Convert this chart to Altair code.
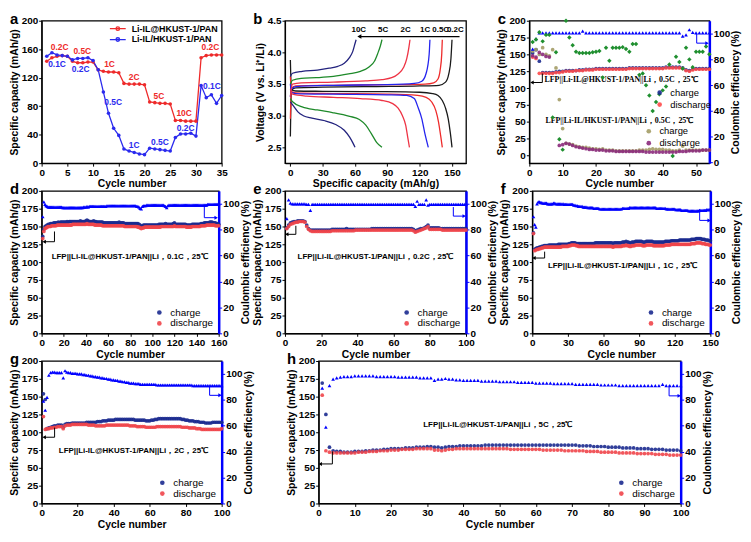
import altair as alt
import pandas as pd

FONT = "Liberation Sans"
NAVY = "#1b2a8f"
RED = "#f0454a"
BLUE = "#0000ff"
H = 144

# ---------------- panel a: rate capability ----------------
a_cycles = list(range(1, 36))
a_mof = [143, 148, 150, 151, 150, 143, 141, 141, 142, 142, 131, 129, 128, 128, 127,
         112, 111, 111, 111, 110, 86, 85, 84, 84, 83, 60, 60, 59, 59, 59,
         148, 151, 152, 152, 152]
a_il = [150, 155, 152, 151, 150, 145, 147, 147, 148, 144, 131, 100, 70, 49, 39,
        20, 17, 15, 13, 12, 21, 20, 19, 18, 17, 36, 41, 41, 42, 38,
        109, 92, 96, 84, 95]
a_series = ["Li-IL@HKUST-1/PAN", "Li-IL/HKUST-1/PAN"]
a_lab_text = ["0.2C", "0.5C", "1C", "2C", "5C", "10C", "0.2C",
              "0.1C", "0.2C", "0.5C", "1C", "0.5C", "0.2C", "0.1C"]
a_lab_x = [3.5, 7.9, 13.2, 18, 22.8, 27.7, 32.8, 3, 7.6, 13.9, 18, 23, 28, 33.1]
a_lab_y = [163, 158, 139, 121, 94, 70.5, 163, 139, 132, 86, 26, 30, 49, 109]
a_lab_col = ["#ee2a2a"] * 7 + ["#2a2aee"] * 7

# ---------------- panel b: charge/discharge curves ----------------
b_rates = ["0.2C", "0.5C", "1C", "2C", "5C", "10C"]
b_colors = ["#1a1a1a", "#ee2b2b", "#2424ee", "#ee3344", "#1e8a2a", "#23237e"]
b_chg_cap = {
    "0.2C": [0, 1, 5, 30, 80, 120, 138, 144, 147, 149, 150],
    "0.5C": [0, 1, 5, 40, 90, 125, 133, 137, 139, 140.5, 141],
    "1C": [0, 1, 5, 40, 90, 115, 122, 126, 128.8, 129.5],
    "2C": [0, 2, 10, 40, 70, 85, 94, 100, 105, 108, 110, 111],
    "5C": [0, 2, 10, 24, 40, 54, 65, 73, 78, 81, 83.5, 85],
    "10C": [0, 2, 11, 25, 36, 44, 50, 55, 58, 60, 61],
}
b_chg_v = {
    "0.2C": [2.67, 3.40, 3.44, 3.45, 3.46, 3.47, 3.48, 3.53, 3.66, 3.90, 4.20],
    "0.5C": [2.95, 3.43, 3.47, 3.48, 3.49, 3.50, 3.52, 3.58, 3.72, 3.98, 4.20],
    "1C": [3.30, 3.42, 3.46, 3.48, 3.49, 3.51, 3.545, 3.67, 3.97, 4.20],
    "2C": [3.30, 3.50, 3.52, 3.53, 3.55, 3.57, 3.60, 3.66, 3.76, 3.90, 4.08, 4.20],
    "5C": [3.50, 3.56, 3.59, 3.60, 3.62, 3.66, 3.70, 3.77, 3.86, 3.98, 4.10, 4.20],
    "10C": [3.62, 3.67, 3.70, 3.72, 3.75, 3.78, 3.83, 3.92, 4.02, 4.14, 4.20],
}
b_dis_cap = {
    "0.2C": [0, 1, 5, 30, 80, 120, 132, 137, 141, 144, 146.5, 148.5, 150],
    "0.5C": [0, 1, 5, 40, 90, 118, 126, 131, 135, 137.5, 139.5, 141],
    "1C": [0, 1, 5, 40, 90, 108, 115, 118.7, 122, 124.8, 128],
    "2C": [0, 2, 15, 40, 65, 85, 95, 100, 104, 107, 109, 110.5],
    "5C": [0, 2, 11, 25, 39, 55, 64, 70, 75, 80, 85],
    "10C": [0, 3, 7, 12, 20, 32, 42, 50, 55, 58, 60],
}
b_dis_v = {
    "0.2C": [3.88, 3.41, 3.39, 3.385, 3.38, 3.37, 3.35, 3.32, 3.24, 3.12, 2.95, 2.72, 2.50],
    "0.5C": [3.62, 3.38, 3.36, 3.35, 3.34, 3.32, 3.29, 3.22, 3.08, 2.90, 2.68, 2.50],
    "1C": [3.50, 3.37, 3.35, 3.34, 3.33, 3.32, 3.27, 3.12, 2.95, 2.72, 2.50],
    "2C": [3.42, 3.34, 3.31, 3.29, 3.27, 3.24, 3.19, 3.12, 3.00, 2.85, 2.65, 2.50],
    "5C": [3.27, 3.22, 3.14, 3.09, 3.05, 2.99, 2.94, 2.85, 2.72, 2.58, 2.50],
    "10C": [3.22, 3.15, 3.06, 3.00, 2.96, 2.92, 2.86, 2.77, 2.66, 2.57, 2.50],
}
b_lab_text = ["10C", "5C", "2C", "1C", "0.5C", "0.2C"]
b_lab_x = [63.5, 86, 107, 125, 139.5, 153]
b_arrow_x = [157, 64]

# ---------------- panel c: 0.5C cycling, both electrolytes ----------------
c_mof_charge = [152, 157, 140, 123, 123, 123, 123, 124, 125, 125,
                126, 126, 126, 126, 127, 127, 128, 128, 128, 129,
                129, 129, 129, 129, 129, 129, 129, 129, 129, 130,
                130, 130, 130, 130, 130, 130, 130, 130, 130, 130,
                131, 131, 131, 131, 131, 130, 127, 126, 128, 129,
                129, 129, 129, 129]
c_mof_dis = [146, 144, 122, 122, 122, 122, 122, 123, 123, 124,
             125, 125, 125, 126, 126, 126, 127, 127, 127, 128,
             128, 128, 128, 128, 128, 128, 128, 128, 128, 129,
             129, 129, 129, 129, 129, 129, 129, 129, 129, 129,
             130, 130, 130, 130, 130, 129, 126, 125, 127, 128,
             128, 128, 128, 128]
c_mof_ce = [88, 96, 100.5, 100.5, 100.5, 100.5, 100.5, 100.5, 100.5, 100.5,
            100.5, 100.5, 100.5, 100.5, 100.5, 102, 100.5, 100.5, 100.5, 100.5,
            100.5, 100.5, 100.5, 100.5, 100.5, 100.5, 100.5, 100.5, 100.5, 100.5,
            100.5, 100.5, 100.5, 100.5, 100.5, 100.5, 100.5, 100.5, 100.5, 100.5,
            100.5, 100.5, 100.5, 100.5, 100.5, 98, 99, 103, 101, 100.5,
            100.5, 100.5, 100.5, 100.5]
c_il_charge = [155, 157, 150, 160, 150, 148, 157, 130, 83, 40,
               18, 17, 16, 14, 13, 12, 12, 11, 10, 10,
               9, 10, 8, 8, 8, 7, 7, 7, 7, 7,
               7, 7, 8, 8, 8, 9, 10, 9, 9, 9,
               8, 8, 7, 7, 8, 14, 8, 8, 8, 8,
               8, 8, 8, 8]
c_il_dis = [148, 146, 153, 150, 147, 146, None, None, 15, 16,
            18, 17, 15, 13, 12, 11, 10, 9, 9, 8,
            8, 8, 7, 7, 7, 6, 6, 6, 6, 6,
            6, 6, 6, 6, 5, 5, 5, 5, 5, 5,
            5, 5, 5, 5, 6, 6, 6, 7, 7, 7,
            7, 8, 8, 8]
c_il_ce = [93.5, 95.5, 101, 94, 99, 99, 35, 85.5, 18, 10,
           110, 97, 91, 86, 85, 85, 85, 85, 85.5, 86,
           86.5, 66, 89, 79, 89, 89, 89, 89.5, 88, 86,
           92, 92, 68, 69, 60, 52, 40, 47, 53, 56,
           59, 76, 5, 82, 78, 73, 89, 80, 74, 86,
           86, 86, 90, 84]

# ---------------- panel d: 0.1C ----------------
d_charge = [136, 146, 150, 151, 152, 153, 153, 154, 154, 154,
            155, 155, 155, 155, 156, 155, 156, 156, 156, 156,
            156, 156, 157, 156, 157, 157, 157, 157, 157, 157,
            157, 157, 157, 157, 158, 157, 157, 157, 157, 158,
            159, 158, 157, 157, 157, 157, 158, 157, 157, 156,
            156, 156, 156, 156, 156, 155, 155, 155, 155, 155,
            155, 155, 155, 155, 155, 155, 155, 155, 155, 156,
            155, 155, 155, 155, 154, 154, 154, 154, 154, 154,
            154, 154, 154, 154, 154, 154, 154, 153, 152, 150,
            151, 152, 152, 152, 152, 152, 152, 152, 152, 152,
            152, 152, 152, 152, 152, 153, 153, 153, 153, 153,
            153, 154, 153, 153, 153, 153, 153, 153, 154, 155,
            153, 153, 153, 153, 153, 153, 153, 153, 153, 153,
            152, 152, 152, 152, 152, 153, 153, 153, 153, 153,
            153, 153, 153, 154, 154, 154, 155, 155, 155, 155,
            155, 156, 156, 156, 155, 155, 155, 154, 154, 153]
d_discharge = [133, 143, 147, 148, 149, 150, 150, 150, 151, 151,
               151, 151, 151, 152, 152, 152, 152, 152, 152, 152,
               152, 152, 152, 152, 152, 152, 152, 153, 153, 153,
               153, 153, 153, 153, 153, 153, 153, 153, 153, 153,
               154, 153, 153, 153, 153, 153, 153, 152, 152, 152,
               152, 152, 152, 152, 151, 151, 151, 151, 151, 151,
               151, 151, 151, 151, 151, 151, 151, 151, 151, 151,
               151, 151, 151, 151, 150, 150, 150, 150, 150, 150,
               150, 150, 150, 150, 150, 150, 149, 149, 148, 147,
               148, 148, 149, 149, 149, 149, 149, 149, 149, 149,
               149, 149, 149, 149, 149, 149, 149, 150, 150, 150,
               150, 150, 150, 150, 150, 150, 150, 150, 150, 151,
               150, 150, 150, 150, 150, 150, 150, 150, 150, 150,
               149, 149, 149, 149, 149, 150, 150, 150, 150, 150,
               150, 150, 150, 151, 151, 151, 151, 151, 152, 152,
               152, 152, 152, 152, 152, 152, 151, 151, 151, 151]
d_ce = [90, 101.5, 99.5, 98.5, 98, 97.5, 97.5, 97.5, 97.5, 97.5,
        97.5, 97.5, 97.5, 97.5, 97.5, 97.5, 97.5, 97.5, 97, 97,
        97, 97, 97, 97, 97, 97, 97, 97, 97, 97,
        97, 97, 97, 97, 97, 97, 97, 97.5, 97.5, 97.5,
        98, 97.5, 98, 98, 98, 98, 98, 98, 98, 98,
        98, 98, 98, 98, 98, 98, 98, 98, 98.5, 98.5,
        98.5, 98.5, 98.5, 98.5, 98.5, 98.5, 98.5, 98.5, 98.5, 98.5,
        98.5, 98.5, 98.5, 98.5, 98.5, 98.5, 98.5, 98.5, 98.5, 98.5,
        98.5, 98.5, 98.5, 98.5, 98.5, 98, 98, 97.5, 96.5, 96,
        98, 98.5, 98.5, 98.5, 99, 99, 99, 99, 99, 99,
        99, 99, 99, 99, 99, 99, 99, 99, 99, 99,
        98.5, 98, 97, 98.5, 99, 99, 99, 99, 99, 99,
        99, 99, 99, 99, 99, 99, 99, 99, 99, 99,
        99, 99, 99, 99, 99, 99, 99, 99, 99, 99,
        99, 99, 99, 99, 99, 99, 99, 99, 99, 99.5,
        99.5, 99.5, 99.5, 99.5, 99.5, 99.5, 99.5, 99.5, 99.5, 99.5]

# ---------------- panel e: 0.2C ----------------
e_charge = [148, 152, 155, 156, 157, 157, 158, 158, 158, 158,
            157, 152, 147, 145, 145, 145, 145, 145, 145, 145,
            145, 145, 145, 145, 145, 146, 146, 146, 146, 146,
            146, 146, 146, 147, 146, 146, 146, 146, 146, 146,
            146, 146, 146, 146, 146, 146, 146, 147, 147, 147,
            147, 147, 147, 147, 147, 147, 147, 147, 147, 147,
            147, 147, 147, 147, 147, 147, 147, 147, 147, 147,
            146, 144, 145, 146, 147, 147, 148, 150, 152, 148,
            148, 148, 148, 148, 148, 147, 147, 147, 147, 147,
            147, 147, 147, 147, 147, 147, 147, 147, 147, 147]
e_discharge = [147, 150, 153, 154, 155, 156, 156, 157, 157, 157,
               156, 150, 146, 144, 143, 143, 143, 143, 143, 143,
               143, 143, 143, 143, 143, 144, 144, 144, 144, 144,
               144, 144, 144, 144, 144, 144, 144, 144, 145, 145,
               145, 145, 145, 145, 145, 145, 145, 145, 145, 145,
               145, 145, 145, 145, 145, 145, 145, 145, 145, 145,
               145, 145, 145, 145, 145, 145, 145, 145, 145, 145,
               144, 142, 143, 144, 145, 146, 147, 148, 150, 146,
               146, 146, 146, 146, 146, 146, 145, 145, 145, 145,
               145, 145, 145, 145, 145, 145, 145, 145, 145, 145]
e_ce = [88.5, 103, 100.5, 100, 100, 100, 100, 100, 100, 100,
        100, 99.5, 99.5, 95, 99.5, 99.5, 99.5, 99.5, 99.5, 99.5,
        99.5, 99.5, 99.5, 99.5, 99.5, 99.5, 99.5, 99.5, 99.5, 99.5,
        99.5, 99.5, 99.5, 99.5, 99.5, 99.5, 99.5, 99.5, 99.5, 99.5,
        99.5, 99.5, 99.5, 99.5, 99.5, 99.5, 99.5, 99.5, 99.5, 99.5,
        99.5, 99.5, 99.5, 99.5, 99.5, 99.5, 99.5, 99.5, 99.5, 99.5,
        99.5, 99.5, 99.5, 99.5, 99.5, 99.5, 99.5, 99.5, 99.5, 99.5,
        99.5, 98, 102, 99.5, 99.5, 99.5, 99.5, 103, 99, 99.5,
        99.5, 99.5, 99.5, 99.5, 99.5, 99.5, 99.5, 99.5, 99.5, 99.5,
        99.5, 99.5, 99.5, 99.5, 99.5, 99.5, 99.5, 99.5, 99.5, 99.5]

# ---------------- panel f: 1C ----------------
f_charge = [141, 118, 119, 120, 120, 121, 121, 122, 122, 123,
            123, 123, 123, 124, 124, 124, 124, 124, 124, 124,
            124, 125, 125, 125, 125, 125, 125, 125, 125, 125,
            126, 126, 127, 127, 127, 127, 126, 126, 126, 126,
            126, 126, 126, 126, 126, 126, 126, 126, 126, 126,
            126, 126, 127, 127, 127, 127, 127, 127, 127, 127,
            127, 127, 127, 127, 127, 127, 127, 126, 127, 127,
            127, 127, 127, 127, 127, 128, 128, 128, 129, 128,
            128, 127, 127, 128, 128, 128, 129, 129, 129, 129,
            129, 129, 128, 128, 128, 129, 129, 129, 129, 129,
            129, 128, 128, 128, 128, 128, 128, 128, 128, 128,
            128, 129, 129, 129, 129, 129, 130, 130, 130, 130,
            130, 130, 130, 131, 131, 131, 131, 131, 131, 131,
            131, 131, 131, 132, 132, 132, 132, 133, 133, 133,
            133, 133, 132, 132, 132, 131, 131, 131, 130, 130]
f_discharge = [140, 116, 117, 118, 118, 119, 119, 120, 120, 121,
               121, 121, 121, 121, 121, 121, 121, 121, 121, 121,
               121, 121, 121, 121, 122, 122, 122, 122, 122, 122,
               123, 123, 124, 124, 124, 124, 123, 123, 122, 122,
               122, 122, 122, 122, 122, 122, 122, 122, 122, 122,
               122, 122, 122, 122, 122, 122, 122, 122, 122, 122,
               122, 122, 122, 122, 122, 122, 122, 121, 122, 122,
               122, 122, 122, 122, 122, 123, 123, 123, 124, 123,
               123, 122, 122, 123, 123, 123, 124, 124, 124, 124,
               124, 124, 123, 123, 123, 124, 124, 124, 124, 124,
               124, 123, 123, 123, 123, 123, 123, 123, 123, 123,
               123, 124, 124, 124, 124, 124, 125, 125, 125, 125,
               125, 125, 125, 125, 125, 125, 125, 125, 125, 125,
               125, 125, 125, 126, 126, 126, 126, 127, 127, 127,
               127, 127, 126, 126, 126, 125, 125, 125, 124, 124]
f_ce = [90, 84, 82, 100, 101.5, 101.5, 101, 101, 100.5, 100.5,
        100.5, 100.5, 100, 100, 100, 100, 100, 100.5, 100.5, 100,
        100, 100, 100, 100, 100, 100, 99.5, 99.5, 99.5, 99.5,
        99.5, 99.5, 99.5, 99.5, 99, 99, 98.5, 98.5, 98, 98,
        98, 98, 97.5, 97.5, 97.5, 97.5, 97, 97, 97, 97,
        97, 96.5, 96.5, 96.5, 96.5, 96.5, 96, 96, 96, 96,
        96, 96, 96, 96, 96, 96, 96, 96, 96, 96,
        96, 96, 96, 96, 96, 96.5, 96.5, 96.5, 96.5, 96.5,
        96.5, 97, 97, 97, 97, 97, 97, 97, 97, 97,
        97, 97, 97, 97, 97, 97, 97, 97, 97, 97,
        97, 97, 97, 97, 96.5, 96.5, 96.5, 96.5, 96.5, 96.5,
        96.5, 96.5, 96, 96, 96, 96, 96, 96, 96, 96,
        95.5, 95.5, 95.5, 95.5, 95.5, 95, 95, 95, 95, 95,
        95, 94.5, 94.5, 94.5, 94.5, 94.5, 94.5, 94.5, 94.5, 94.5,
        95, 95, 95, 95, 95, 95, 95.5, 95.5, 95.5, 95.5]

# ---------------- panel g: 2C ----------------
g_charge = [154, 146, 105, 106, 107, 108, 109, 109, 110, 110,
            110, 107, 111, 112, 112, 112, 113, 113, 113, 113,
            113, 113, 113, 113, 114, 114, 114, 114, 114, 114,
            115, 115, 115, 116, 116, 116, 117, 117, 117, 117,
            118, 118, 118, 118, 118, 118, 118, 118, 118, 118,
            118, 117, 117, 117, 117, 117, 117, 116, 116, 116,
            117, 117, 118, 118, 119, 119, 119, 119, 119, 119,
            119, 119, 119, 119, 119, 119, 119, 118, 118, 117,
            117, 116, 116, 116, 115, 115, 115, 114, 114, 114,
            113, 113, 113, 113, 114, 114, 114, 114, 114, 114]
g_discharge = [122, 104, 105, 105, 106, 106, 107, 107, 108, 108,
               108, 105, 109, 110, 110, 110, 111, 111, 111, 111,
               111, 111, 111, 111, 111, 110, 110, 110, 110, 109,
               109, 109, 109, 109, 109, 110, 110, 110, 110, 110,
               110, 110, 110, 110, 110, 110, 110, 110, 109, 109,
               109, 109, 108, 108, 108, 108, 108, 107, 107, 107,
               107, 107, 107, 108, 108, 108, 108, 108, 108, 108,
               108, 108, 108, 108, 108, 108, 108, 107, 107, 107,
               107, 106, 106, 106, 106, 105, 105, 105, 104, 104,
               104, 104, 104, 104, 104, 104, 104, 104, 104, 105]
g_ce = [79, 72, 82, 99, 101, 101.5, 101.5, 101, 101, 101,
        101, 97, 102.5, 101.5, 101, 101, 100.5, 100.5, 100.5, 100,
        100, 100, 99.5, 99.5, 99, 99, 98.5, 98.5, 98, 98,
        97.5, 97.5, 97, 97, 96.5, 96.5, 96, 96, 95.5, 95.5,
        95, 95, 94.5, 94.5, 94, 94, 93.5, 93.5, 93, 93,
        93, 92.5, 92.5, 92.5, 92, 92, 92, 92, 92, 92,
        92, 92, 92, 91.5, 91.5, 91.5, 91.5, 91.5, 91.5, 91.5,
        91.5, 91.5, 91.5, 91.5, 91.5, 91.5, 91.5, 91.5, 91.5, 91.5,
        91.5, 91.5, 91.5, 91, 91, 91, 91, 91, 91, 91,
        91, 91, 91, 91, 91, 91, 91, 91, 91, 91]

# ---------------- panel h: 5C ----------------
h_charge = [169, 125, 79, 74, 73, 73, 72, 72, 72, 73,
            73, 73, 74, 74, 75, 75, 75, 76, 76, 77,
            77, 77, 77, 78, 78, 78, 79, 79, 79, 80,
            80, 79, 79, 78, 79, 80, 80, 80, 81, 81,
            81, 81, 81, 81, 81, 82, 82, 82, 82, 82,
            82, 82, 82, 82, 82, 82, 82, 82, 82, 82,
            82, 82, 82, 82, 82, 82, 82, 82, 82, 82,
            82, 81, 81, 81, 81, 80, 80, 80, 80, 79,
            79, 79, 79, 78, 78, 78, 78, 77, 77, 77,
            77, 76, 76, 76, 76, 75, 75, 75, 75, 74]
h_discharge = [152, 74, 72, 71, 71, 71, 71, 71, 71, 71,
               72, 72, 72, 73, 73, 73, 74, 74, 74, 75,
               75, 75, 76, 76, 76, 76, 77, 77, 77, 77,
               77, 75, 75, 74, 75, 76, 76, 77, 77, 77,
               77, 77, 77, 77, 77, 77, 77, 77, 77, 77,
               77, 77, 76, 76, 76, 76, 76, 76, 76, 76,
               76, 75, 75, 75, 75, 75, 75, 74, 74, 74,
               74, 74, 74, 73, 73, 73, 73, 72, 72, 72,
               72, 72, 71, 71, 71, 71, 71, 70, 70, 70,
               70, 70, 69, 69, 69, 69, 68, 68, 68, 68]
h_ce = [89, 59, 91, 96, 97, 97.5, 98, 98, 98, 98.5,
        98.5, 98.5, 98.5, 98.5, 98.5, 98, 98, 98, 98, 98,
        98, 97.5, 97.5, 97.5, 97.5, 97.5, 97.5, 97, 97, 97,
        97, 95, 96, 96, 96.5, 96, 96, 95.5, 95.5, 95,
        95, 95, 95, 95, 94.5, 94.5, 94.5, 94.5, 94.5, 94,
        94, 94, 94, 94, 93.5, 93.5, 93.5, 93.5, 93.5, 93,
        93, 93, 93, 93, 92.5, 92.5, 92.5, 92.5, 92.5, 92.5,
        92, 92, 92, 92, 92, 92, 92, 91.5, 91.5, 91.5,
        91.5, 91.5, 91, 91, 91, 91, 91, 91, 91, 91,
        91, 91, 91, 91, 92, 91, 91, 91, 91, 91]

NOTE = "LFP||Li-IL@HKUST-1/PAN||Li，{}，25℃"


# ================= helpers =================
def letter_layer(letter):
    return alt.Chart(pd.DataFrame({"t": [letter]})).mark_text(
        font=FONT, fontSize=15, fontWeight="bold", align="left", baseline="alphabetic", color="black"
    ).encode(x=alt.value(-32), y=alt.value(3), text="t:N")


def xaxis(values, title="Cycle number"):
    return alt.Axis(values=values, title=title, labelFlush=False)


def right_axis():
    return alt.Axis(values=list(range(0, 101, 20)), title="Coulombic efficiency (%)", orient="right",
                    titleAngle=270, titleBaseline="top", titlePadding=1, domainColor=BLUE, domainWidth=2.5,
                    tickColor=BLUE)


def bracket(xs, ys, xf, yf, X, Y, color, head):
    df = pd.DataFrame({xf: xs, yf: ys, "o": list(range(len(xs)))})
    line = alt.Chart(df).mark_line(color=color, strokeWidth=1).encode(x=X, y=Y, order="o:Q")
    tip = alt.Chart(df.tail(1)).mark_point(shape=head, filled=True, size=16, color=color, opacity=1).encode(x=X, y=Y)
    return [line, tip]


def cycling_panel(letter, charge, discharge, ce, xmax, xstep, width, rate, note_xy, lb, rb):
    n = len(charge)
    cyc = list(range(1, n + 1))
    X = alt.X("cycle:Q", scale=alt.Scale(domain=[0, xmax], nice=False, zero=False),
              axis=xaxis(list(range(0, xmax + 1, xstep))))
    YL = alt.Y("cap:Q", scale=alt.Scale(domain=[0, 200], nice=False, zero=False),
               axis=alt.Axis(values=list(range(0, 201, 25)), title="Specific capacity (mAh/g)", orient="left"))
    YR = alt.Y("ce:Q", scale=alt.Scale(domain=[0, 110], nice=False, zero=False), axis=right_axis())
    cap_df = pd.DataFrame({"cycle": cyc + cyc, "cap": charge + discharge,
                           "series": ["charge"] * n + ["discharge"] * n})
    pts = alt.Chart(cap_df).mark_point(filled=True, size=14, opacity=0.9).encode(
        x=X, y=YL,
        color=alt.Color("series:N", scale=alt.Scale(domain=["charge", "discharge"], range=[NAVY, RED]),
                        legend=alt.Legend(title=None, orient="bottom-right", offset=5)))
    note = alt.Chart(pd.DataFrame({"cycle": [note_xy[0]], "cap": [note_xy[1]], "t": [NOTE.format(rate)]})).mark_text(
        font=FONT, fontSize=8, fontWeight="bold", color="black").encode(x=X, y=YL, text="t:N")
    left = alt.layer(pts, *bracket(lb[0], lb[1], "cycle", "cap", X, YL, "black", "triangle-left"),
                     note, letter_layer(letter))
    ce_df = pd.DataFrame({"cycle": cyc, "ce": ce})
    ce_pts = alt.Chart(ce_df).mark_point(filled=True, size=14, shape="triangle-up", color=BLUE, opacity=1).encode(x=X, y=YR)
    right = alt.layer(ce_pts, *bracket(rb[0], rb[1], "cycle", "ce", X, YR, BLUE, "triangle-right"))
    return alt.layer(left, right).resolve_scale(y="independent").properties(width=width, height=H)


# ================= panel a =================
Xa = alt.X("cycle:Q", scale=alt.Scale(domain=[0, 35], nice=False, zero=False), axis=xaxis(list(range(0, 36, 5))))
Ya = alt.Y("cap:Q", scale=alt.Scale(domain=[0, 200], nice=False, zero=False),
           axis=alt.Axis(values=list(range(0, 201, 40)), title="Specific capacity (mAh/g)"))
a_df = pd.DataFrame({"cycle": a_cycles * 2, "cap": a_mof + a_il,
                     "series": [a_series[0]] * 35 + [a_series[1]] * 35})
a_color = alt.Scale(domain=a_series, range=["#ee2a2a", "#2a2aee"])
a_lines = alt.Chart(a_df).mark_line(strokeWidth=1.3).encode(
    x=Xa, y=Ya,
    color=alt.Color("series:N", scale=a_color,
                    legend=alt.Legend(title=None, orient="top-right", offset=3, padding=0,
                                      symbolType="M-2,0H2M-0.45,0A0.45,0.45,0,1,1,0.45,0A0.45,0.45,0,1,1,-0.45,0Z",
                                      symbolSize=64, symbolStrokeWidth=1.3, labelFontSize=9,
                                      labelFontWeight="bold", rowPadding=1, labelOffset=9)))
a_pts_m = alt.Chart(pd.DataFrame({"cycle": a_cycles, "cap": a_mof})).mark_point(
    filled=True, size=13, color="#ee2a2a", opacity=1).encode(x=Xa, y=Ya)
a_pts_i = alt.Chart(pd.DataFrame({"cycle": a_cycles, "cap": a_il})).mark_point(
    filled=True, size=13, color="#2a2aee", opacity=1).encode(x=Xa, y=Ya)
a_labels = alt.Chart(pd.DataFrame({"cycle": a_lab_x, "cap": a_lab_y, "t": a_lab_text, "col": a_lab_col})).mark_text(
    font=FONT, fontSize=8.5, fontWeight="bold").encode(x=Xa, y=Ya, text="t:N", color=alt.Color("col:N", scale=None))
panel_a = alt.layer(a_lines, a_pts_m, a_pts_i, a_labels, letter_layer("a")).properties(width=182, height=H)

# ================= panel b =================
rows = []
for r, col in zip(b_rates, b_colors):
    for kind, caps, vs in (("c", b_chg_cap[r], b_chg_v[r]), ("d", b_dis_cap[r], b_dis_v[r])):
        for k, (cc_, vv) in enumerate(zip(caps, vs)):
            rows.append({"cap": cc_, "v": vv, "curve": r + kind, "col": col, "o": k})
b_df = pd.DataFrame(rows)
Xb = alt.X("cap:Q", scale=alt.Scale(domain=[-5, 163], nice=False, zero=False),
           axis=xaxis(list(range(0, 151, 30)), "Specific capacity (mAh/g)"))
Yb = alt.Y("v:Q", scale=alt.Scale(domain=[2.25, 4.5], nice=False, zero=False),
           axis=alt.Axis(values=[2.5, 3.0, 3.5, 4.0, 4.5], format=".1f", title="Voltage (V vs. Li⁺/Li)"))
b_lines = alt.Chart(b_df).mark_line(strokeWidth=1.3, interpolate="monotone").encode(
    x=Xb, y=Yb, detail="curve:N", order="o:Q", color=alt.Color("col:N", scale=None))
b_arrow_df = pd.DataFrame({"cap": b_arrow_x, "v": [4.25, 4.25], "o": [0, 1]})
b_arrow = alt.Chart(b_arrow_df).mark_line(color="black", strokeWidth=1.2).encode(x=Xb, y=Yb, order="o:Q")
b_tip = alt.Chart(b_arrow_df.tail(1)).mark_point(shape="triangle-left", filled=True, size=22, color="black",
                                                 opacity=1).encode(x=Xb, y=Yb)
b_labels = alt.Chart(pd.DataFrame({"cap": b_lab_x, "v": [4.36] * 6, "t": b_lab_text})).mark_text(
    font=FONT, fontSize=8, fontWeight="bold", color="black").encode(x=Xb, y=Yb, text="t:N")
panel_b = alt.layer(b_lines, b_arrow, b_tip, b_labels, letter_layer("b")).properties(width=183, height=H)

# ================= panel c =================
cc = list(range(1, 55))
Xc = alt.X("cycle:Q", scale=alt.Scale(domain=[0, 54], nice=False, zero=False), axis=xaxis(list(range(0, 51, 10))))
Yc = alt.Y("cap:Q", scale=alt.Scale(domain=[-11.4, 200], nice=False, zero=False),
           axis=alt.Axis(values=list(range(0, 201, 25)), title="Specific capacity (mAh/g)", orient="left"))
Yc_r = alt.Y("ce:Q", scale=alt.Scale(domain=[-0.5, 110], nice=False, zero=False), axis=right_axis())
c_mof_df = pd.DataFrame({"cycle": cc + cc, "cap": c_mof_charge + c_mof_dis,
                         "series": ["charge"] * 54 + ["discharge"] * 54})
c_il_df = pd.DataFrame({"cycle": cc + cc, "cap": c_il_charge + c_il_dis,
                        "series": ["charge"] * 54 + ["discharge"] * 54}).dropna()
c_leg = dict(title=None, orient="none", labelFontSize=9.5, labelFont=FONT, symbolSize=22, rowPadding=1)
c_mof_pts = alt.Chart(c_mof_df).mark_point(filled=True, size=14, opacity=0.9).encode(
    x=Xc, y=Yc, color=alt.Color("series:N", scale=alt.Scale(domain=["charge", "discharge"], range=[NAVY, "#ff4a4a"]),
                                legend=alt.Legend(legendX=127, legendY=68, **c_leg)))
c_il_pts = alt.Chart(c_il_df).mark_point(filled=True, size=14, opacity=0.9).encode(
    x=Xc, y=Yc, color=alt.Color("series:N", scale=alt.Scale(domain=["charge", "discharge"], range=["#a39c66", "#8b2a7c"]),
                                legend=alt.Legend(legendX=116, legendY=107, **c_leg)))
c_notes = alt.Chart(pd.DataFrame({"cycle": [27.5, 27], "cap": [111.4, 51],
                                  "t": ["LFP||Li-IL@HKUST-1/PAN||Li，0.5C，25℃", "LFP||Li-IL/HKUST-1/PAN||Li，0.5C，25℃"]})).mark_text(
    font="Liberation Serif", fontSize=8, fontWeight="bold", color="black").encode(x=Xc, y=Yc, text="t:N")
c_left = alt.layer(c_mof_pts, c_il_pts,
                   *bracket([3.9, 3.9, 0.8], [121.6, 108.3, 108.3], "cycle", "cap", Xc, Yc, "black", "triangle-left"),
                   c_notes, letter_layer("c")).resolve_scale(color="independent")
c_ce_m = alt.Chart(pd.DataFrame({"cycle": cc, "ce": c_mof_ce})).mark_point(
    filled=True, size=14, shape="triangle-up", color=BLUE, opacity=1).encode(x=Xc, y=Yc_r)
c_ce_i = alt.Chart(pd.DataFrame({"cycle": cc, "ce": c_il_ce})).mark_point(
    filled=True, size=20, shape="diamond", color="#1f8f2f", opacity=1).encode(x=Xc, y=Yc_r)
c_right = alt.layer(c_ce_m, c_ce_i,
                    *bracket([50.2, 50.2, 53.3], [100.5, 92.6, 92.6], "cycle", "ce", Xc, Yc_r, BLUE, "triangle-right"))
panel_c = alt.layer(c_left, c_right).resolve_scale(y="independent", color="independent").properties(width=182, height=H)

# ================= panels d-h =================
panel_d = cycling_panel("d", d_charge, d_discharge, d_ce, 160, 20, 179, "0.1C", (79.5, 107),
                        ([11.6, 11.6, 2.3], [143, 128.6, 128.6]), ([147, 147, 157.7], [98.5, 89.3, 89.3]))
panel_e = cycling_panel("e", e_charge, e_discharge, e_ce, 100, 20, 183, "0.2C", (50, 107),
                        ([6, 6, 1], [151, 139, 139]), ([93, 93, 99], [97.5, 90.5, 90.5]))
panel_f = cycling_panel("f", f_charge, f_discharge, f_ce, 150, 30, 180, "1C", (76, 94),
                        ([10.4, 10.4, 1.4], [114.7, 105.7, 105.7]), ([141, 141, 149], [95.8, 87.2, 87.2]))
panel_g = cycling_panel("g", g_charge, g_discharge, g_ce, 100, 20, 182, "2C", (51, 74),
                        ([7.2, 7.2, 1.4], [106.5, 93, 93]), ([93.3, 93.3, 99.1], [90.9, 83.5, 83.5]))
panel_h = cycling_panel("h", h_charge, h_discharge, h_ce, 100, 10, 366, "5C", (49.5, 110),
                        ([3.8, 3.8, 0.45], [73, 55.5, 55.5]), ([96.8, 96.8, 99.6], [91.3, 83.1, 83.1]))

row1 = alt.hconcat(panel_a, panel_b, panel_c, spacing=64, bounds="flush").resolve_scale(color="independent")
row2 = alt.hconcat(panel_d, panel_e, panel_f, spacing=67, bounds="flush").resolve_scale(color="independent")
row3 = alt.hconcat(panel_g, panel_h, spacing=98, bounds="flush").resolve_scale(color="independent")

chart = alt.vconcat(row1, row2, row3, spacing=-14, padding=0).resolve_scale(color="independent").configure(
    font=FONT).configure_axis(
    labelFont=FONT, titleFont=FONT, labelFontSize=10, labelFontWeight="bold", titleFontWeight="bold",
    titleFontSize=10.5, grid=False, tickSize=3, labelPadding=1, titlePadding=2, domainColor="black",
    tickColor="black", labelColor="black", titleColor="black", domainWidth=1.2, labelFlush=False
).configure_view(stroke="black", strokeWidth=1.3).configure_legend(
    labelFont=FONT, labelFontSize=10, symbolSize=22, symbolType="circle", rowPadding=1, padding=0,
    labelOffset=6, labelColor="black"
)

chart.save("out.html", embed_options={"renderer": "svg", "actions": False})
